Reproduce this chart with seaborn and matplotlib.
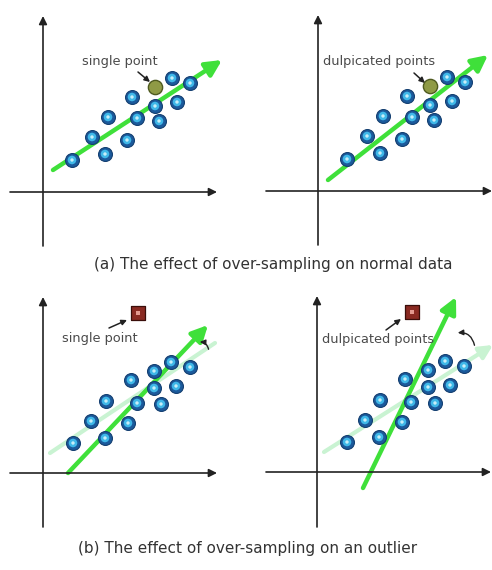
import numpy as np
import pandas as pd
import matplotlib.pyplot as plt
import seaborn as sns

sns.set_theme(style="white")
plt.rcParams['font.family'] = ['DejaVu Sans']

# ---- data (each panel uses its own axes units, origin at the axis crossing) ----
pts_x_a = [29, 49, 62, 65, 84, 89, 94, 112, 116, 129, 134, 147]
pts_y_a = [32, 55, 38, 75, 52, 95, 74, 86, 71, 114, 90, 109]
dup_a = (112, 105)

pts_x_b = [30, 48, 62, 63, 85, 88, 94, 111, 111, 118, 128, 133, 147]
pts_y_b = [30, 52, 35, 72, 50, 93, 70, 102, 85, 69, 111, 87, 106]
outlier_b = (95, 160)

labels = ["single point", "dulpicated points"]
captions = ["(a) The effect of over-sampling on normal data",
            "(b) The effect of over-sampling on an outlier"]

# fitted line ends per panel
fit_a1 = [(10, 22), (179, 132)]
fit_a2 = [(10, 11), (170, 136)]
fit_b_old = [(7, 20), (172, 130)]
fit_b_old2 = [(7, 20), (176, 127)]
fit_b1 = [(25, 0), (165, 148)]
fit_b2 = [(46, -16), (139, 175)]

W, H = 492, 570
fig = plt.figure(figsize=(W / 100, H / 100), dpi=100)
fig.patch.set_facecolor('white')

GREEN = '#3fe03a'
PALE = '#c9f3d2'


def make_panel(origin, box):
    # box = (left, top, right, bottom) in pixels; 1 unit = 1 pixel
    l, t, r, b = box
    ax = fig.add_axes([l / W, 1 - b / H, (r - l) / W, (b - t) / H])
    ax.set_xlim(l - origin[0], r - origin[0])
    ax.set_ylim(origin[1] - b, origin[1] - t)
    ax.axis('off')
    return ax


def draw_axes(ax, x0, y0):
    ap = dict(arrowstyle='-|>', mutation_scale=12, lw=1.2, color='#222222',
              shrinkA=0, shrinkB=0)
    ax.annotate('', xy=(174, 0), xytext=(x0, 0), arrowprops=ap,
                annotation_clip=False)
    ax.annotate('', xy=(0, 176), xytext=(0, y0), arrowprops=ap,
                annotation_clip=False)


def draw_points(ax, xs, ys):
    df = pd.DataFrame({'x': xs, 'y': ys})
    sns.scatterplot(data=df, x='x', y='y', ax=ax, s=100, color='#1b5a9c',
                    edgecolor='#143f70', linewidth=0.8, zorder=3)
    sns.scatterplot(data=df, x='x', y='y', ax=ax, s=38, color='#3fb8e8',
                    edgecolor='none', zorder=4)
    sns.scatterplot(data=df, x='x', y='y', ax=ax, s=6, color='#c8eef8',
                    edgecolor='none', zorder=5)


def green_arrow(ax, seg, color=GREEN, lw=3.2, ms=24, z=2):
    ax.annotate('', xy=seg[1], xytext=seg[0], zorder=z, annotation_clip=False,
                arrowprops=dict(arrowstyle='-|>', mutation_scale=ms, lw=lw,
                                color=color, shrinkA=0, shrinkB=0))


def label(ax, text, txy, axy, hxy):
    ax.text(*txy, text, ha='center', va='center', fontsize=9.3, color='#4a4a4a')
    ax.annotate('', xy=hxy, xytext=axy, annotation_clip=False,
                arrowprops=dict(arrowstyle='-|>', mutation_scale=8, lw=1.1,
                                color='#222222', shrinkA=0, shrinkB=0))


def dup_point(ax):
    sns.scatterplot(x=[dup_a[0]], y=[dup_a[1]], ax=ax, s=105, color='#8f9a45',
                    edgecolor='#4f5a20', linewidth=1.0, zorder=6)


# (a) left
ax1 = make_panel((43, 192), (0, 0, 246, 255))
draw_axes(ax1, -33, -54)
green_arrow(ax1, fit_a1)
draw_points(ax1, pts_x_a, pts_y_a)
dup_point(ax1)
label(ax1, labels[0], (77, 130), (95, 120), (107, 110))

# (a) right
ax2 = make_panel((318, 191), (246, 0, 492, 255))
draw_axes(ax2, -52, -54)
green_arrow(ax2, fit_a2)
draw_points(ax2, pts_x_a, pts_y_a)
dup_point(ax2)
label(ax2, labels[1], (61, 129), (96, 118), (107, 108))

fig.text(273 / W, 1 - 265 / H, captions[0], ha='center', va='center',
         fontsize=11, color='#333333')


def outlier(ax):
    ax.scatter([outlier_b[0]], [outlier_b[1]], marker='s', s=90,
               color='#8a2a22', edgecolor='#3a0e0a', linewidth=0.9, zorder=6)
    ax.scatter([outlier_b[0]], [outlier_b[1]], marker='s', s=12,
               color='#e49a90', edgecolor='none', zorder=7)


# (b) left
ax3 = make_panel((43, 473), (0, 280, 246, 540))
draw_axes(ax3, -33, -54)
ax3.plot([p[0] for p in fit_b_old], [p[1] for p in fit_b_old], color=PALE,
         lw=3, zorder=1, solid_capstyle='round')
green_arrow(ax3, fit_b1)
draw_points(ax3, pts_x_b, pts_y_b)
outlier(ax3)
label(ax3, labels[0], (57, 134), (66, 145), (84, 153))
ax3.annotate('', xy=(154, 131), xytext=(166, 121), annotation_clip=False,
             arrowprops=dict(arrowstyle='-|>', mutation_scale=8, lw=1.0,
                             color='#222222', connectionstyle='arc3,rad=0.5'))

# (b) right
ax4 = make_panel((317, 472), (246, 280, 492, 540))
draw_axes(ax4, -51, -55)
green_arrow(ax4, fit_b_old2, color=PALE, lw=3, ms=20, z=1)
green_arrow(ax4, fit_b2)
draw_points(ax4, pts_x_b, pts_y_b)
outlier(ax4)
label(ax4, labels[1], (61, 132), (69, 142), (84, 153))
ax4.annotate('', xy=(138, 139), xytext=(158, 124), annotation_clip=False,
             arrowprops=dict(arrowstyle='-|>', mutation_scale=8, lw=1.0,
                             color='#222222', connectionstyle='arc3,rad=0.5'))

fig.text(248 / W, 1 - 549 / H, captions[1], ha='center', va='center',
         fontsize=11, color='#333333')

fig.savefig('out.png', dpi=100, facecolor='white')
